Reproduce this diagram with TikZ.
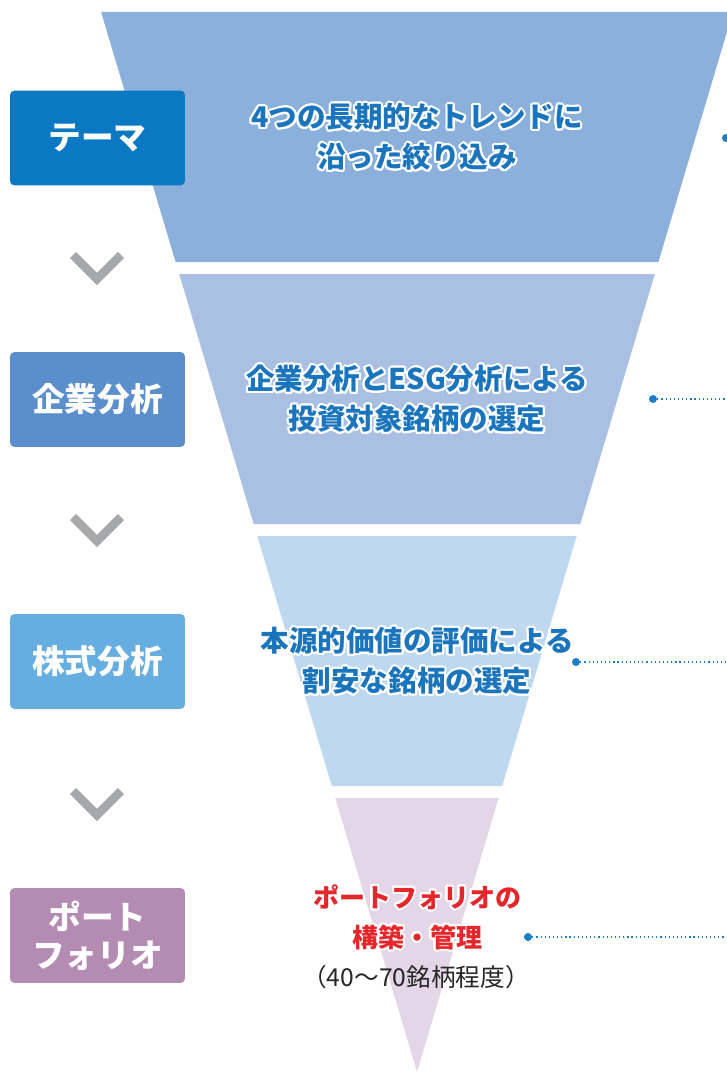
\documentclass[tikz,border=0pt]{standalone}
\usepackage{fontspec}
\setmainfont{Noto Sans CJK JP}
\usepackage[copies]{contour}
\contourlength{1.5pt}
\contournumber{24}

\definecolor{faixaA}{HTML}{8BB0DC}
\definecolor{faixaB}{HTML}{A9C0E3}
\definecolor{faixaC}{HTML}{BED8F0}
\definecolor{faixaD}{HTML}{E3D6E6}
\definecolor{etapaA}{HTML}{0A78C2}
\definecolor{etapaB}{HTML}{5B8FCB}
\definecolor{etapaC}{HTML}{66ADE0}
\definecolor{etapaD}{HTML}{B38BB3}
\definecolor{textoAzul}{HTML}{1B75BC}
\definecolor{textoVermelho}{HTML}{E5262B}
\definecolor{pontoAzul}{HTML}{1C7CC4}
\definecolor{cinza}{HTML}{A7A8AA}

\newcommand{\brilho}[1]{\contour{white}{#1}}

\begin{document}
\begin{tikzpicture}[
        x=0.75pt, y=-0.75pt,
        nodeEtapa/.style={rectangle, rounded corners=3pt, minimum width=131pt, minimum height=71pt, inner sep=0pt, text=white, align=center, font=\bfseries\fontsize{24.5}{28.5}\selectfont},
        nodeTexto/.style={align=center, inner sep=0pt, text=textoAzul, font=\bfseries\fontsize{21.4}{30}\selectfont},
        nodeCarteira/.style={align=center, inner sep=0pt, text=textoVermelho, font=\bfseries\fontsize{19.5}{30}\selectfont},
        nodeNota/.style={inner sep=0pt, text=black!85, font=\fontsize{18.5}{22}\selectfont},
        nodePonto/.style={circle, fill=pontoAzul, minimum size=6pt, inner sep=0pt},
        linhaPontilhada/.style={draw=pontoAzul, line width=0.9pt, dash pattern=on 0.9pt off 2.2pt},
        chevronCinza/.style={draw=cinza, line width=6.4pt, miter limit=10}
        ]
        \useasboundingbox (0,0) rectangle (727,1073);

        % funil em quatro faixas
        \fill[faixaA] (101.1,12) -- (732.9,12) -- (658.4,262) -- (175.6,262) -- cycle;
        \fill[faixaB] (179.2,274) -- (654.8,274) -- (580.3,524) -- (253.7,524) -- cycle;
        \fill[faixaC] (257.3,536) -- (576.7,536) -- (502.2,786) -- (331.8,786) -- cycle;
        \fill[faixaD] (335.3,798) -- (498.7,798) -- (417,1072) -- cycle;

        \node[nodeEtapa, fill=etapaA] (tema) at (97.5,138) {テーマ};
        \node[nodeEtapa, fill=etapaB] (empresa) at (97.5,399.5) {企業分析};
        \node[nodeEtapa, fill=etapaC] (acao) at (97.5,661.5) {株式分析};
        \node[nodeEtapa, fill=etapaD] (carteira) at (97.5,935.5) {ポート\\フォリオ};

        \draw[chevronCinza] (73,255) -- (97,279) -- (121,255);
        \draw[chevronCinza] (73,517) -- (97,541) -- (121,517);
        \draw[chevronCinza] (73,791) -- (97,815) -- (121,791);

        \node[nodeTexto] (textoTema) at (417,138) {\brilho{4つの長期的なトレンドに}\\\brilho{沿った絞り込み}};
        \node[nodeTexto] (textoEmpresa) at (417,400) {\brilho{企業分析とESG分析による}\\\brilho{投資対象銘柄の選定}};
        \node[nodeTexto] (textoAcao) at (417,662) {\brilho{本源的価値の評価による}\\\brilho{割安な銘柄の選定}};
        \node[nodeCarteira] (textoCarteira) at (417,918) {\brilho{ポートフォリオの}\\\brilho{構築・管理}};
        \node[nodeNota] (nota) at (416,977) {（40～70銘柄程度）};

        \node[nodePonto] (pontoTema) at (726,138) {};
        \node[nodePonto] (pontoEmpresa) at (653,399) {};
        \node[nodePonto] (pontoAcao) at (576,662) {};
        \node[nodePonto] (pontoCarteira) at (528,937) {};
        \coordinate (fimEmpresa) at (730,399);
        \coordinate (fimAcao) at (730,662);
        \coordinate (fimCarteira) at (730,937);

        \draw[linhaPontilhada] (pontoEmpresa) -- (fimEmpresa);
        \draw[linhaPontilhada] (pontoAcao) -- (fimAcao);
        \draw[linhaPontilhada] (pontoCarteira) -- (fimCarteira);
    \end{tikzpicture}
\end{document}
